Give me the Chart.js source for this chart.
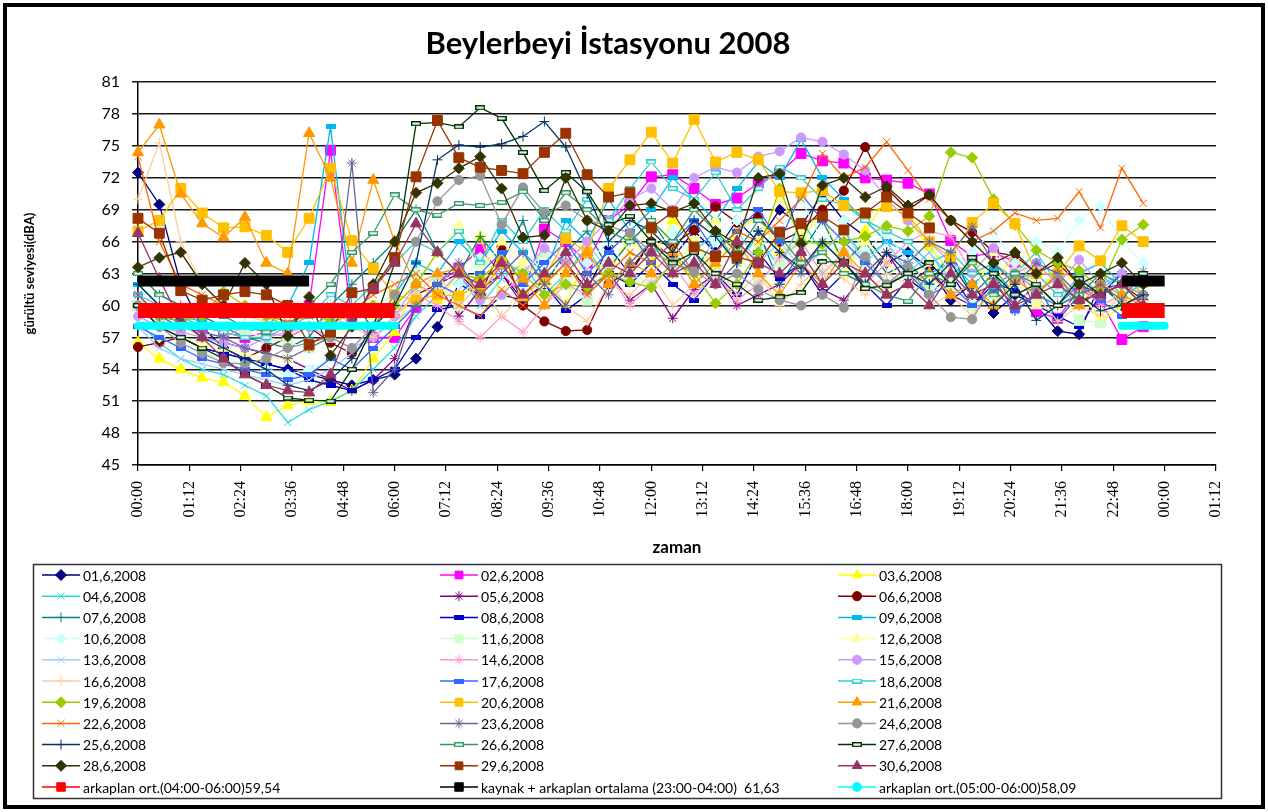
<!DOCTYPE html>
<html lang="tr">
<head>
<meta charset="UTF-8">
<title>Beylerbeyi İstasyonu 2008</title>
<script src="https://cdn.jsdelivr.net/npm/chart.js"></script>
<style>
  html, body { margin: 0; padding: 0; background: #fff; }
  #chart-container { width: 1268px; height: 812px; position: relative; }
</style>
</head>
<body>
<div id="chart-container"><canvas id="noiseChart"></canvas></div>
<script>
// texts
const chartTitle = 'Beylerbeyi İstasyonu 2008';
const xTitle = 'zaman';
const yTitle = 'gürültü seviyesi(dBA)';

// measurement times (one value every 30 min)
const times = ['00:00','00:30','01:00','01:30','02:00','02:30','03:00','03:30','04:00','04:30','05:00','05:30',
               '06:00','06:30','07:00','07:30','08:00','08:30','09:00','09:30','10:00','10:30','11:00','11:30',
               '12:00','12:30','13:00','13:30','14:00','14:30','15:00','15:30','16:00','16:30','17:00','17:30',
               '18:00','18:30','19:00','19:30','20:00','20:30','21:00','21:30','22:00','22:30','23:00','23:30'];

const xTickLabels = ['00:00','01:12','02:24','03:36','04:48','06:00','07:12','08:24','09:36','10:48','12:00',
                     '13:12','14:24','15:36','16:48','18:00','19:12','20:24','21:36','22:48','00:00','01:12'];

// daily series, dBA
const d01 = [72.5,69.5,62,58,56,55,54.5,54,53.5,53,52.5,53, 53.5,55,58,62,61,63,60.5,62,64,61.5,65.5,63, 66,64.5,67,65,68,66,69,67.5,70.5,68,66.5,64, 65,63.5,60.5,62,59.3,61,60,57.6,57.3,62.2,60,61];
const d02 = [60,59,58.5,58,57.5,57,57.5,58,60,74.6,58.5,57, 57,59.8,62,63.5,65.3,63,61,67.2,66,64,68,69.5, 72.1,72.3,71,69.5,70.1,71.5,72.5,74.3,73.6,73.4,72,71.8, 71.5,70.5,66.1,64.6,65,64.1,59.4,58.8,61.5,60.5,56.8,58];
const d03 = [56.5,55,54,53.2,52.8,51.5,49.5,50.6,51,50.9,52,55, 57.5,62,60.5,63,66.4,61,64,62.5,60,65,63,66.5, 64,68,66,63.5,67,68.5,65,66,69,63,67,70, 68,65.5,63,64,62,65,61,63.5,62,58.4,60,62];
const d04 = [58.5,56.5,55,54,53.5,52.5,51.5,49,50.2,51,52,54, 56,59,61,63,60,62.5,64,61,63,65.5,62,64, 66,63,65,67,64,66.5,63.5,68,65,67,64.5,66, 63,65,62.5,64,61,63,65,62,60,61.5,63,62];
const d05 = [61,59,58.5,57,56.5,56,55.5,55,54,53,52,53, 55,60,62,59,61.5,63,60,62,64,61.5,63,60.5, 62,58.8,61.5,63,60,61,62,64,61.5,60.5,63,65, 62,63.5,61,60,62.5,59.5,61,63,60,61.5,62,62.5];
const d06 = [56.1,56.5,57,56,55.5,55,56,57,58,56.5,55.5,57, 59,61,62,63,61,65.5,60,58.5,57.6,57.7,62,63.3, 66,65.7,67.1,69.3,67.8,68.4,66,67,69,70.8,74.9,71, 69,70.4,68,66.9,65,64.7,63,64,62,61,62,60.5];
const d07 = [63,61,60,59,58,57,56.5,56,57,60,62,64, 66,69,65,63,66.5,64,68,62,65,67,63.5,66, 68,65,63,66.5,64,67,62,65,68,64,66,63, 64,62,65,61,63,60,62,58.6,61,62,60,61];
const d08 = [60,58,57,56,55.5,55,54.5,54,53,52.5,52,53, 54,57,59.6,60,59,61,60.5,62,59.5,61,63,62, 64,62,60.5,63,61,65,62.5,64,61,63,62,60, 62.5,61,63,60,62,61.5,60,59,58,61,63,62];
const d09 = [62,60,59,58.5,58,57.5,58,60,64,76.8,60,58, 61,64,63,66,64,67,65,63,68,66,70,67, 69,72,70,68,71,73.5,72,75.6,72,70,68,66, 65,63,64,62,63.5,61,62,60,63,64,62,63];
const d10 = [59,57,56,55.5,55,54.5,54,53.5,54,55,56,58, 60,61,63,62,64.5,63,61.5,65,62,64,66,63, 65,67,64,66,68,65.5,67,70,66,68,65,67, 64,66,63,65,67,64,66,65,68,69.4,66,64];
const d11 = [60,59,58,57,58,57.5,57,56.5,56,57,58,60, 61,63,62,60,64,61,63,65,62,60.5,64,63, 62,64,66,63,65,62,64,66,63,65,64,62, 63,61.5,62,60,61,63,60.5,62,58.6,58.4,61,60];
const d12 = [59,58,57,56.5,56,55.5,55,55,56,57,58,59, 60,62,65,67.5,63,66,64,62,63.5,66,68,65, 67,63,66,68,64,66,70,67,65,63,66,64, 62,64,63,61,65,62,60,63,61,59,62,61];
const d13 = [58,56,55,54.5,54,53.5,53,52.5,53,54,55.5,57, 58.5,60,62,64,61,63,65,62,64,66,63,65, 64,66,63,65,67,64,66,63.5,65,67,64,66, 63,65,62,64,61,63,62,60,63,61,62,60];
const d14 = [60,58.5,58,57.5,57,58,57.5,57,58,59,58,57, 59,61,60,58.5,57,59,57.5,60,62,61,63,60, 62,64,61,63,60.5,62,64.5,66,63,65,62,64, 66,67,66.5,63,64,62,63,61,62,60,61,62];
const d15 = [59,58,57.5,57,56.5,56,57,57.5,58,57,56,57, 59,62,61,63,60.5,61,63,65.4,64,66,68,70, 71,69,72,73,72.5,74,74.5,75.8,75.4,74.2,72.7,70, 68,66,64,63,65.4,63,64,62,64.3,62,63,61];
const d16 = [70,75.3,66,62,60,59,58.5,58,59,60,58,57, 59,61,63,60,62,59,61,63,60,58.5,62,61, 63,60,62,64,61,63,60,62,64,62.5,61,63, 62,60,61,59,62,60,61,58.5,60,59,61,60];
const d17 = [58,57,56,55,54.5,54,53.5,53,53.5,55,54,56, 58,60,62,61,63,65,62,64,66,63,65,67, 64,66,68,65,67,69,66,70.5,68,66,64,62, 63,61,62,60,61.5,59.5,61,60,62,60.5,59,61];
const d18 = [61,60,59,58,57.5,57,57,58,59,61,60,62, 64,66,65,67,64,68,66,69,67,70,68,71, 73.5,71,70,72.5,69,71,73,72,70,69.5,68,67, 66,64,65,63,64,62.5,63,61,62,63,61,62];
const d19 = [60,59,58.5,59,61.3,60,59,58,59.5,58.5,59,60, 60,62,65,63,62.5,64.3,63,61,62,61.7,63,62.2, 61.7,64,63,60.2,62,65,71,66,65.8,66,66.5,67.5, 67,68.4,74.4,73.9,70,67.6,65.2,64,63.3,61.7,66.2,67.6];
const d20 = [67,68,71,68.7,67.3,67.4,66.6,65,68.2,72.9,66.1,63.5, 61,60.5,61,60.9,62,64,60.9,62.6,66.3,65,71,73.7, 76.3,73.4,77.5,73.5,74.4,73.7,70.7,70.6,70.8,69.4,68.7,69.3, 68.5,66,64.5,67.8,69.6,67.7,63,63,65.6,64.2,67.5,66];
const d21 = [74.4,77,70.5,67.7,66.4,68.3,64,63,76.2,72,64,71.8, 66,62,63,63.5,61,64,62.5,60,63,65,62,64, 63,65,62,64,66,63,61,64,62,65,63,61, 62,63,61,62,60,62.5,61,63,60,62,61,60];
const d22 = [74,66,62,61,60,59.5,59,58.5,59,60,59.5,61, 62,63,61,60,59,61.5,60,62,64,61,63,65, 64,66,63,65,67,66,68,70,74.3,72,73,75.4, 72.7,70,68,66,67,68.7,68,68.2,70.7,67.3,72.9,69.6];
const d23 = [61,59,58,57.5,57,56,55.5,55,56,57,73.4,51.8, 54,60,62,64,61,63,65,62,60,63,61,64, 66,63,65,62,64,67,65,63,66,64,62,65, 64,66,65,67.4,64,62,64,63,61,62,60.5,63.2];
const d24 = [60,58,56.5,55.5,54.6,54.5,55,56,56.5,57,56,58, 61,66,69.8,71.8,72.2,67.6,71.1,68.7,69.4,68,67.5,66.8, 65,64,63.2,62,63,61.5,60.5,60,61,59.8,64.6,62, 63.6,61,58.9,58.7,62,63,61.5,62.5,60.5,61,62,61];
const d25 = [62,60,58.5,57,56,55,54,52.5,52,53,55,58, 60,64,73.7,75.1,74.9,75.2,75.9,77.3,74.9,70.5,66,68, 67,65,68,66.5,64,67,65,63.5,66,64,62,65, 63,62,64,61,60,62,58.6,60,61,59.5,60,61];
const d26 = [63,61,60,59.5,59,58,57.5,58,60,62,65,66.8, 70.4,69,68.5,69.6,69.4,69.7,70.7,68,70.6,69,67,66, 68,66,69,67,65,68,66.5,64,65,63,62,61, 60.4,63,62,64,61,63,62,60,61,63,62,60];
const d27 = [60,58,57,56,55,53.5,52.5,51.3,51.1,51,54,58, 64,77.1,77.2,76.8,78.6,77.6,74.4,70.8,72.5,70.7,67.6,68.4, 66,64,65,63,62,60.5,60.8,61.2,64.1,64.1,61.6,61.9, 63,64,62,64.5,63,61,62,60,62.5,61,62,63];
const d28 = [63.6,64.5,65,62,60,64,62,57.1,60.8,55.3,58,62, 66,70.6,71.5,72.9,74,71,66.4,66.6,72,68,67,69.4, 69.6,68.8,69.6,67,65.8,72,72.4,65.8,71.3,72,70.2,71.2, 69.4,70.4,68,66,64,65,63,64.5,62,63,64,62];
const d29 = [68.2,66.8,61.4,60.5,61,61.3,61,60,56.3,57.5,61.2,61.6, 64.5,72.1,77.4,73.9,73,72.7,72.4,74.4,76.2,72.3,70.2,70.6, 67.3,68.8,65.5,64.6,64.6,64,66.9,67.7,68.4,67.1,68.7,70.2, 68.7,67.3,null,null,null,null,null,null,null,null,null,null];
const d30 = [66.8,62.5,58.5,57,55,53.5,52.5,52,51.8,53.5,58.5,61.6, 64,67.7,65,63,62,64,61,63,65,62,64,63, 65,63,64,62,66,64,63,65,62,64,63,61, 62,60,63,61,62,60,61,62,60.5,61,62,60];

const seriesData = [d01,d02,d03,d04,d05,d06,d07,d08,d09,d10,d11,d12,d13,d14,d15,
                    d16,d17,d18,d19,d20,d21,d22,d23,d24,d25,d26,d27,d28,d29,d30];
const seriesNames = ['01,6,2008','02,6,2008','03,6,2008','04,6,2008','05,6,2008','06,6,2008',
                     '07,6,2008','08,6,2008','09,6,2008','10,6,2008','11,6,2008','12,6,2008',
                     '13,6,2008','14,6,2008','15,6,2008','16,6,2008','17,6,2008','18,6,2008',
                     '19,6,2008','20,6,2008','21,6,2008','22,6,2008','23,6,2008','24,6,2008',
                     '25,6,2008','26,6,2008','27,6,2008','28,6,2008','29,6,2008','30,6,2008'];

// background averages (level drawn, time spans)
const refNames = ['arkaplan ort.(04:00-06:00)59,54',
                  'kaynak + arkaplan ortalama (23:00-04:00)  61,63',
                  'arkaplan ort.(05:00-06:00)58,09'];
const refLevels = [59.54, 62.3, 58.09];
const refSpans = [
  [['00:00','06:00'], ['23:00','24:00']],
  [['00:00','04:00'], ['23:00','24:00']],
  [['00:00','06:00'], ['23:00','24:00']]
];

// styles
const seriesColors = ['#000080','#FF00FF','#FFFF00','#22DDDD','#800080','#800000','#008080','#0000CC','#00B8F0','#CCFFFF',
                      '#CCFFCC','#FFFF99','#99CCFF','#FF99CC','#CC99FF','#FFCC99','#3366FF','#33CCCC','#99CC00','#FFC000',
                      '#FF9900','#FF6600','#666699','#969696','#003366','#339966','#003300','#333300','#993300','#993366'];
const seriesMarkers = ['rectRot','rect','triangle','crossRot','star','circle','cross','bar','bar','rectRot',
                       'rect','triangle','crossRot','star','circle','cross','bar','bar','rectRot','rect',
                       'triangle','crossRot','star','circle','cross','bar','bar','rectRot','rect','triangle'];
const markerRadius = {rectRot: 5.5, rect: 7, triangle: 6.5, crossRot: 5, star: 5, circle: 4.6, cross: 5, bar: 5};
const refColors = ['#FF0000', '#000000', '#00FFFF'];
const refWidths = [15, 11, 8];
const refMarkers = ['rect', 'rect', 'circle'];
const refCaps = ['butt', 'butt', 'round'];

const toMin = t => { const p = t.split(':'); return (+p[0]) * 60 + (+p[1]); };

function barMarker(color, hollow) {
  const c = document.createElement('canvas');
  c.width = 10; c.height = 5;
  const g = c.getContext('2d');
  g.fillStyle = hollow ? '#ffffff' : color;
  g.fillRect(0, 0, 10, 5);
  g.strokeStyle = color; g.lineWidth = 1.4;
  g.strokeRect(0.7, 0.7, 8.6, 3.6);
  return c;
}

const datasets = seriesData.map((vals, i) => {
  const m = seriesMarkers[i];
  const color = seriesColors[i];
  const style = m === 'bar' ? barMarker(color, i === 25 || i === 26 || i === 17) : m;
  return {
    label: seriesNames[i],
    data: vals.map((v, k) => ({ x: toMin(times[k]), y: v })),
    borderColor: color,
    backgroundColor: color,
    pointBackgroundColor: color,
    pointBorderColor: color,
    pointStyle: style,
    pointRadius: markerRadius[m],
    pointBorderWidth: 1,
    borderWidth: 1.3,
    order: 100 - i,
    clip: false,
    legendRadius: Math.min(markerRadius[m], 5.5)
  };
});

refLevels.forEach((level, k) => {
  const pts = [];
  refSpans[k].forEach((span, j) => {
    if (j > 0) pts.push({ x: toMin(span[0]) - 1, y: null });
    pts.push({ x: toMin(span[0]), y: level }, { x: toMin(span[1]), y: level });
  });
  datasets.push({
    label: refNames[k],
    data: pts,
    borderColor: refColors[k],
    backgroundColor: refColors[k],
    pointBackgroundColor: refColors[k],
    pointBorderColor: refColors[k],
    pointStyle: refMarkers[k],
    pointRadius: 0,
    borderWidth: refWidths[k],
    borderCapStyle: refCaps[k],
    order: 60 - k,
    clip: false,
    legendRadius: refMarkers[k] === 'rect' ? 6 : 4.5
  });
});

// frame around the picture and the boxed 3-column legend
const legendCols = [42, 440, 838];
const boxLegend = {
  id: 'boxLegend',
  afterDraw(chart) {
    const ctx = chart.ctx;
    ctx.save();
    ctx.strokeStyle = '#000';
    ctx.lineWidth = 4;
    ctx.strokeRect(5, 5, chart.width - 10, chart.height - 10);

    ctx.lineWidth = 1.5;
    ctx.strokeStyle = '#333';
    ctx.strokeRect(33.5, 564.5, 1188, 234);

    ctx.font = '14px Lato';
    ctx.textBaseline = 'middle';
    chart.data.datasets.forEach((ds, i) => {
      const x = legendCols[i % 3];
      const y = 575 + Math.floor(i / 3) * 21.2;
      ctx.strokeStyle = ds.borderColor;
      ctx.lineWidth = 1.5;
      ctx.beginPath(); ctx.moveTo(x, y); ctx.lineTo(x + 38, y); ctx.stroke();
      ctx.fillStyle = ds.pointBackgroundColor;
      ctx.strokeStyle = ds.pointBorderColor;
      ctx.lineWidth = 1;
      Chart.helpers.drawPoint(ctx, { pointStyle: ds.pointStyle, rotation: 0, radius: ds.legendRadius, borderWidth: 1 }, x + 19, y);
      ctx.fillStyle = '#000';
      ctx.fillText(ds.label, x + 41, y + 1);
    });
    ctx.restore();
  }
};

Chart.defaults.font.family = "Lato, 'Open Sans', sans-serif";
Chart.defaults.color = '#000';

const ctx = document.getElementById('noiseChart').getContext('2d');
const noiseChart = new Chart(ctx, {
  type: 'line',
  data: { datasets },
  options: {
    responsive: true,
    maintainAspectRatio: false,
    animation: false,
    events: [],
    layout: { padding: { left: 0, right: 52, top: 0, bottom: 252 } },
    plugins: {
      legend: { display: false },
      tooltip: { enabled: false },
      title: {
        display: true,
        text: chartTitle,
        color: '#000',
        font: { family: 'Lato', size: 31, weight: 'bold' },
        padding: { top: 25, bottom: 20 }
      }
    },
    scales: {
      x: {
        type: 'linear',
        min: 0,
        max: 1512,
        afterFit: s => { s.height = 95; },
        ticks: {
          stepSize: 72,
          autoSkip: false,
          minRotation: 90,
          maxRotation: 90,
          padding: 10,
          color: '#000',
          font: { family: "'Liberation Serif', serif", size: 16 },
          callback: (v, i) => xTickLabels[i]
        },
        grid: { drawOnChartArea: false, drawTicks: true, tickLength: 6, color: '#000', lineWidth: 1.2 },
        border: { color: '#000', width: 1.5 },
        title: { display: true, text: xTitle, color: '#000', font: { size: 17, weight: 'bold' }, padding: { top: 0, bottom: 2 } }
      },
      y: {
        min: 45,
        max: 81,
        afterFit: s => { s.width = 138; },
        ticks: { stepSize: 3, padding: 12, color: '#000', font: { size: 16 } },
        grid: { color: '#1a1a1a', lineWidth: 1.5, tickLength: 6 },
        border: { color: '#000', width: 1.5 },
        title: { display: true, text: yTitle, color: '#000', font: { size: 13, weight: 'bold' }, padding: { top: 22, bottom: 0 } }
      }
    }
  },
  plugins: [boxLegend]
});
</script>
</body>
</html>
